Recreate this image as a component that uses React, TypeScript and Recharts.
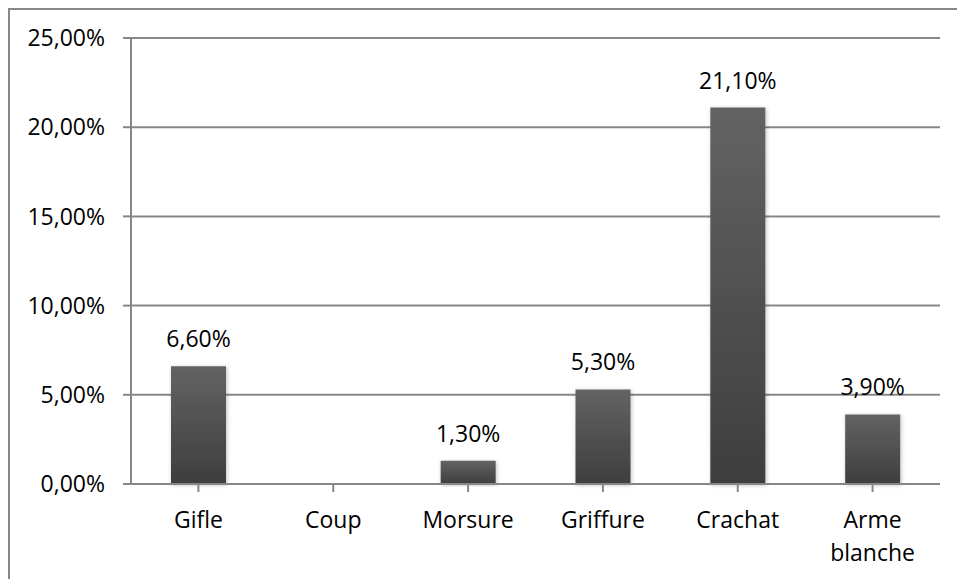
import React from "react";
import { Bar, BarChart, CartesianGrid, LabelList, XAxis, YAxis } from "recharts";

const categories = ["Gifle", "Coup", "Morsure", "Griffure", "Crachat", "Arme blanche"];
const percentages: (number | null)[] = [6.6, null, 1.3, 5.3, 21.1, 3.9];
const yTicks = [0, 5, 10, 15, 20, 25];

const data = categories.map((name, i) => ({ name, value: percentages[i] }));

const FONT = "'Open Sans', sans-serif";
const GREY = "#878787";

const fmt = (v: number) => v.toFixed(2).replace(".", ",") + "%";

const CategoryTick = (props: any) => {
  const { x, y, payload } = props;
  const words = String(payload.value).split(" ");
  return (
    <text x={x} y={y} textAnchor="middle" fill="#000" fontSize={23} fontFamily={FONT}>
      {words.map((w, i) => (
        <tspan key={i} x={x} dy={i === 0 ? "0.71em" : 33}>
          {w}
        </tspan>
      ))}
    </text>
  );
};

export default function App() {
  return (
    <div
      style={{
        position: "fixed",
        left: 8,
        top: 8,
        width: 949,
        height: 571,
        borderTop: `2px solid ${GREY}`,
        borderLeft: `2px solid ${GREY}`,
        background: "#fff",
      }}
    >
      <BarChart
        width={947}
        height={569}
        data={data}
        margin={{ top: 28, right: 17, left: 0, bottom: 0 }}
        barSize={55}
      >
        <defs>
          <linearGradient id="barFill" x1="0" y1="0" x2="0" y2="1">
            <stop offset="0%" stopColor="#636363" />
            <stop offset="100%" stopColor="#3e3e3e" />
          </linearGradient>
          <filter id="barShadow" x="-20%" y="-5%" width="140%" height="115%">
            <feDropShadow dx="1" dy="1" stdDeviation="2" floodColor="#000" floodOpacity="0.25" />
          </filter>
        </defs>
        <CartesianGrid vertical={false} stroke={GREY} strokeWidth={2} />
        <XAxis
          dataKey="name"
          axisLine={{ stroke: GREY, strokeWidth: 2 }}
          tickLine={{ stroke: GREY, strokeWidth: 2 }}
          tickSize={8}
          tickMargin={20}
          height={95}
          interval={0}
          tick={<CategoryTick />}
        />
        <YAxis
          domain={[0, 25]}
          ticks={yTicks}
          tickFormatter={fmt}
          width={121}
          axisLine={{ stroke: GREY, strokeWidth: 2 }}
          tickLine={{ stroke: GREY, strokeWidth: 2 }}
          tickSize={8}
          tickMargin={18}
          tick={{ fill: "#000", fontSize: 23, fontFamily: FONT }}
        />
        <Bar
          dataKey="value"
          fill="url(#barFill)"
          filter="url(#barShadow)"
          isAnimationActive={false}
        >
          <LabelList
            dataKey="value"
            position="top"
            offset={19}
            formatter={(v: any) => (v == null ? "" : fmt(Number(v)))}
            style={{ fill: "#000", fontSize: 23, fontFamily: FONT }}
          />
        </Bar>
      </BarChart>
    </div>
  );
}
